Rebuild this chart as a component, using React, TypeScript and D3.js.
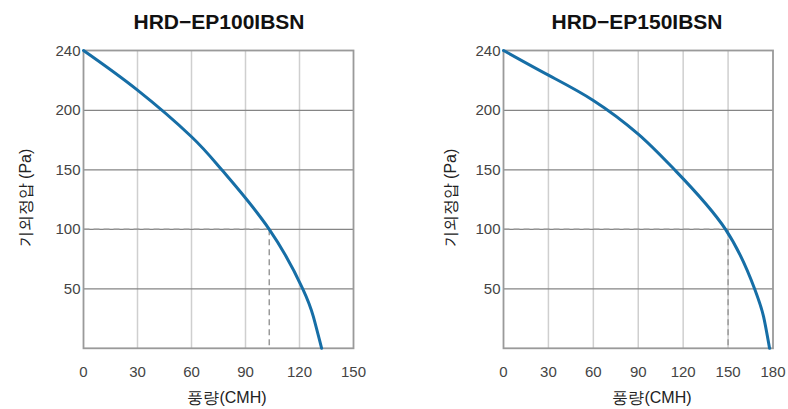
import React from "react";
import * as d3 from "d3";

// ---- data ----
const titles = ["HRD\u2212EP100IBSN", "HRD\u2212EP150IBSN"];
const yTickValues = [50, 100, 150, 200, 240];
const yTickLabels = ["50", "100", "150", "200", "240"];

const xTicksA = [0, 30, 60, 90, 120, 150];
const flowA = [0, 30, 60, 76.8, 103.2, 121.8, 127.7, 132.3];
const pressA = [240, 213.5, 177.8, 150, 100, 50, 26.6, 0];
const opA = [103.2, 100];

const xTicksB = [0, 30, 60, 90, 120, 150, 180];
const flowB = [0, 30, 60, 90, 114.3, 148.3, 167.7, 173.7, 177.7];
const pressB = [240, 223.5, 206.6, 180, 150, 100, 50, 26.6, 0];
const opB = [150, 100];

const yTitle = "기외정압 (Pa)";
const xTitle = "풍량(CMH)";

const FONT = "'Liberation Sans', Arial, Helvetica, sans-serif";

type ChartProps = {
  title: string;
  xTicks: number[];
  flow: number[];
  press: number[];
  op: number[];
  x0: number;
  x1: number;
  titleX: number;
  xTitleX: number;
  yTitleX: number;
};

function Chart(p: ChartProps) {
  const xMax = p.xTicks[p.xTicks.length - 1];
  const x = d3.scaleLinear().domain([0, xMax]).range([p.x0, p.x1]);
  const y = d3.scaleLinear().domain([0, 200, 240]).range([348.3, 110.3, 50.5]);
  const pts: [number, number][] = p.flow.map((f, i) => [f, p.press[i]]);
  const line = d3
    .line<[number, number]>()
    .x((d) => x(d[0]))
    .y((d) => y(d[1]))
    .curve(d3.curveNatural);
  const [ox, oy] = p.op;
  return (
    <g>
      <text x={p.titleX} y={29} textAnchor="middle" fontFamily={FONT} fontWeight="bold" fontSize={21} fill="#111">
        {p.title}
      </text>
      {/* vertical grid */}
      {p.xTicks.slice(1, -1).map((t) => (
        <line key={"v" + t} x1={x(t)} x2={x(t)} y1={y(240)} y2={y(0)} stroke="#cfcfcf" strokeWidth={1.5} />
      ))}
      {/* horizontal grid */}
      {yTickValues.slice(0, -1).map((t) => (
        <line key={"h" + t} x1={x(0)} x2={x(xMax)} y1={y(t)} y2={y(t)} stroke="#858585" strokeWidth={1.2} />
      ))}
      {/* frame */}
      <rect x={x(0)} y={y(240)} width={x(xMax) - x(0)} height={y(0) - y(240)} fill="none" stroke="#9a9a9a" strokeWidth={1.8} />
      {/* dashed operating point */}
      <path
        d={`M${x(0)},${y(oy)}H${x(ox)}M${x(ox)},${y(oy)}V${y(0)}`}
        fill="none"
        stroke="#9a9a9a"
        strokeWidth={1.5}
        strokeDasharray="6,4"
      />
      {/* curve */}
      <path d={line(pts) || ""} fill="none" stroke="#166ea6" strokeWidth={3} strokeLinecap="round" />
      {/* y ticks */}
      {yTickValues.map((t, i) => (
        <text key={"yl" + t} x={x(0) - 3} y={y(t) + 5} textAnchor="end" fontFamily={FONT} fontSize={15} fill="#444">
          {yTickLabels[i]}
        </text>
      ))}
      {/* x ticks */}
      {p.xTicks.map((t) => (
        <text key={"xl" + t} x={x(t)} y={377} textAnchor="middle" fontFamily={FONT} fontSize={15} fill="#444">
          {t}
        </text>
      ))}
      <text x={p.xTitleX} y={403} textAnchor="middle" fontFamily={FONT} fontSize={16} fill="#222">
        {xTitle}
      </text>
      <text
        transform={`translate(${p.yTitleX},198) rotate(-90)`}
        textAnchor="middle"
        fontFamily={FONT}
        fontSize={16}
        fill="#222"
      >
        {yTitle}
      </text>
    </g>
  );
}

export default function App() {
  return (
    <svg width={788} height={409} style={{ position: "absolute", left: 0, top: 0, background: "#fff" }}>
      <rect width={788} height={409} fill="#fff" />
      <Chart
        title={titles[0]}
        xTicks={xTicksA}
        flow={flowA}
        press={pressA}
        op={opA}
        x0={83.5}
        x1={353.5}
        titleX={219}
        xTitleX={227}
        yTitleX={31}
      />
      <Chart
        title={titles[1]}
        xTicks={xTicksB}
        flow={flowB}
        press={pressB}
        op={opB}
        x0={503.5}
        x1={773}
        titleX={637}
        xTitleX={652}
        yTitleX={456}
      />
    </svg>
  );
}
